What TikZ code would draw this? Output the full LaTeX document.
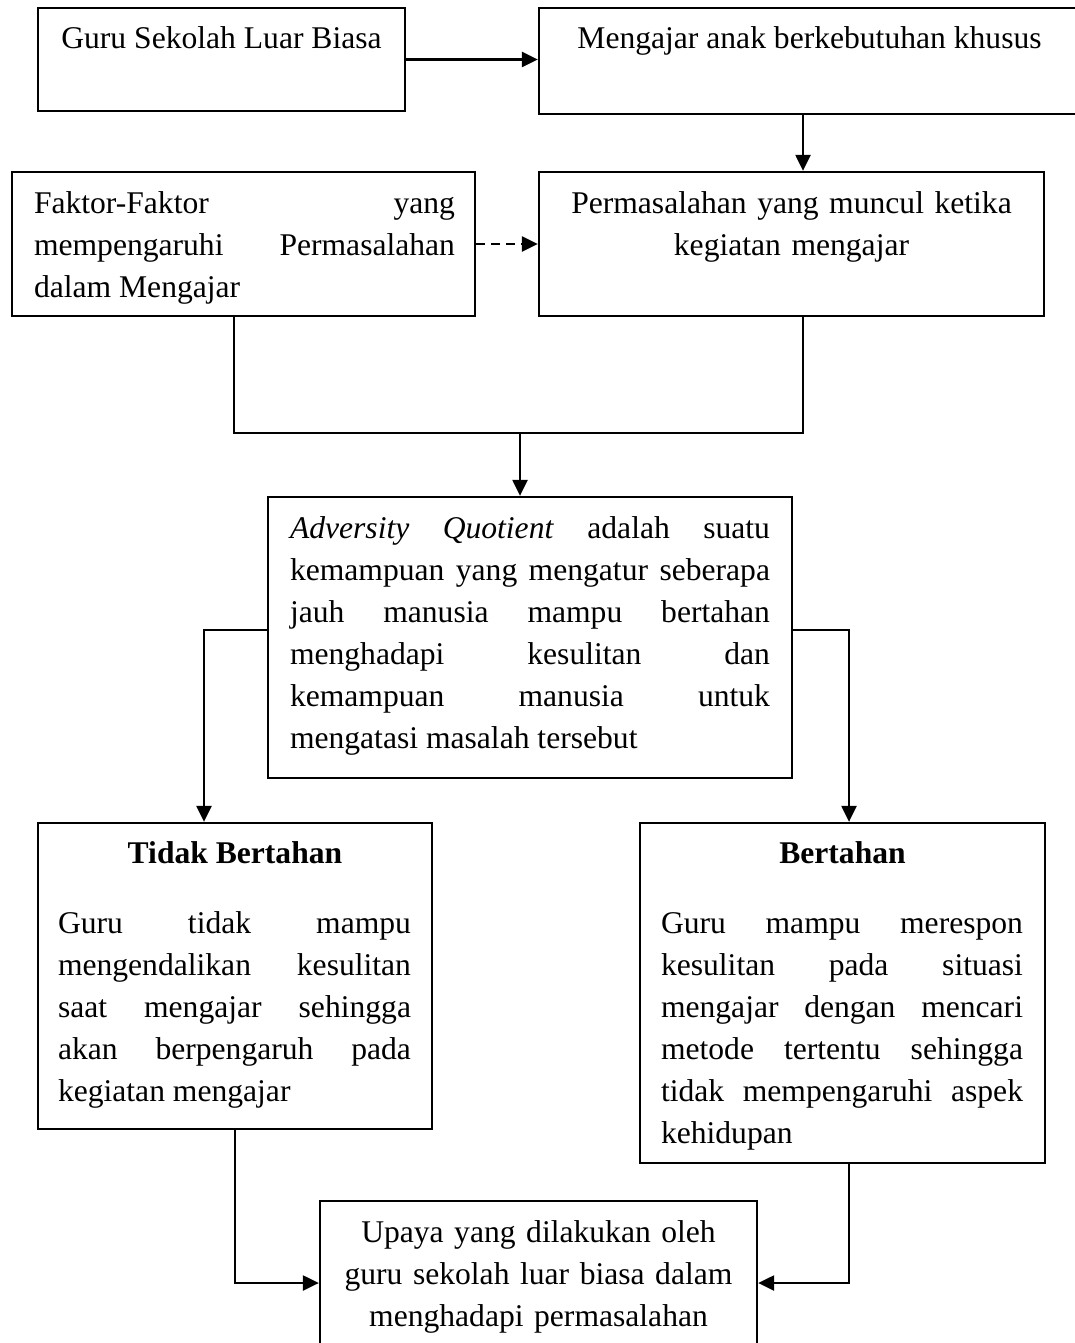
\documentclass[tikz,border=0pt]{standalone}
\usepackage{fontspec}
\setmainfont{Liberation Serif}
\usetikzlibrary{arrows.meta}
\tolerance=10000
\hbadness=10000
\hyphenpenalty=10000
\exhyphenpenalty=10000

\begin{document}
\begin{tikzpicture}[x=0.5pt, y=-0.5pt, >={Triangle[length=8pt, width=7.5pt]}, line width=1.15pt]
\tikzstyle{box}=[draw, rectangle, inner sep=0pt]
\tikzstyle{teks}=[inner sep=0pt, font=\fontsize{15.8pt}{21pt}\selectfont]
\tikzstyle{rata}=[teks, align=justify, anchor=north west]
\tikzstyle{tengah}=[teks, align=center, anchor=north]

\useasboundingbox (0,0) rectangle (1075,1343);

% kotak-kotak
\node[box, minimum width=183.5pt, minimum height=51.5pt] (guru) at (221.5,59.5) {};
\node[box, minimum width=270.5pt, minimum height=53pt] (mengajar) at (809.5,61) {};
\node[box, minimum width=231.5pt, minimum height=72pt] (faktor) at (243.5,244) {};
\node[box, minimum width=252.5pt, minimum height=72pt] (masalah) at (791.5,244) {};
\node[box, minimum width=262pt, minimum height=140.5pt] (aq) at (530,637.5) {};
\node[box, minimum width=197pt, minimum height=153pt] (tidak) at (235,976) {};
\node[box, minimum width=202.5pt, minimum height=170pt] (bertahan) at (842.5,993) {};
\node[box, minimum width=218.5pt, minimum height=82pt] (upaya) at (538.5,1283) {};

% isi teks
\node[tengah] (gurut) at ([yshift=-5.8pt]guru.north) {\strut Guru Sekolah Luar Biasa};
\node[tengah] (mengajart) at ([yshift=-5.8pt]mengajar.north) {\strut Mengajar anak berkebutuhan khusus};
\node[rata, text width=210.5pt] (faktort) at ([xshift=11pt, yshift=-5.8pt]faktor.north west)
  {\strut Faktor-Faktor yang\linebreak mempengaruhi Permasalahan\linebreak dalam Mengajar};
\node[tengah, text width=250pt] (masalaht) at ([yshift=-5.8pt]masalah.north)
  {\strut Permasalahan yang muncul ketika\\ kegiatan mengajar};
\node[rata, text width=240pt] (aqt) at ([xshift=11pt, yshift=-5.8pt]aq.north west)
  {\strut\textit{Adversity Quotient} adalah suatu\linebreak kemampuan yang mengatur seberapa\linebreak
   jauh manusia mampu bertahan\linebreak menghadapi kesulitan dan\linebreak
   kemampuan manusia untuk\linebreak mengatasi masalah tersebut};
\node[tengah] (tidakj) at ([yshift=-5.3pt]tidak.north) {\strut\textbf{Tidak Bertahan}};
\node[rata, text width=176.5pt] (tidakt) at ([xshift=10pt, yshift=-40.3pt]tidak.north west)
  {\strut Guru tidak mampu\linebreak mengendalikan kesulitan\linebreak saat mengajar sehingga\linebreak
   akan berpengaruh pada\linebreak kegiatan mengajar};
\node[tengah] (bertahanj) at ([yshift=-5.3pt]bertahan.north) {\strut\textbf{Bertahan}};
\node[rata, text width=181pt] (bertahant) at ([xshift=10.5pt, yshift=-40.3pt]bertahan.north west)
  {\strut Guru mampu merespon\linebreak kesulitan pada situasi\linebreak mengajar dengan mencari\linebreak
   metode tertentu sehingga\linebreak tidak mempengaruhi aspek\linebreak kehidupan};
\node[tengah, text width=215pt] (upayat) at ([yshift=-5.8pt]upaya.north)
  {\strut Upaya yang dilakukan oleh\\ guru sekolah luar biasa dalam\\ menghadapi permasalahan};

% panah
\draw[->] (guru.east) -- (guru.east -| mengajar.west);
\draw[->] ([xshift=-3.25pt]mengajar.south) -- ([xshift=-3.25pt]mengajar.south |- masalah.north);
\draw[->, dash pattern=on 4.5pt off 3pt] (faktor.east) -- (masalah.west);

\coordinate (gabung) at (520,433);
\draw ([xshift=-4.75pt]faktor.south) |- (gabung) -| ([xshift=5.75pt]masalah.south);
\draw[->] (gabung) -- (gabung |- aq.north);

\draw[->] ([yshift=3.75pt]aq.west) -| ([xshift=-15.5pt]tidak.north);
\draw[->] ([yshift=3.75pt]aq.east) -| ([xshift=3.25pt]bertahan.north);
\draw[->] (tidak.south) |- (upaya.west);
\draw[->] ([xshift=3.25pt]bertahan.south) |- (upaya.east);
\end{tikzpicture}
\end{document}
